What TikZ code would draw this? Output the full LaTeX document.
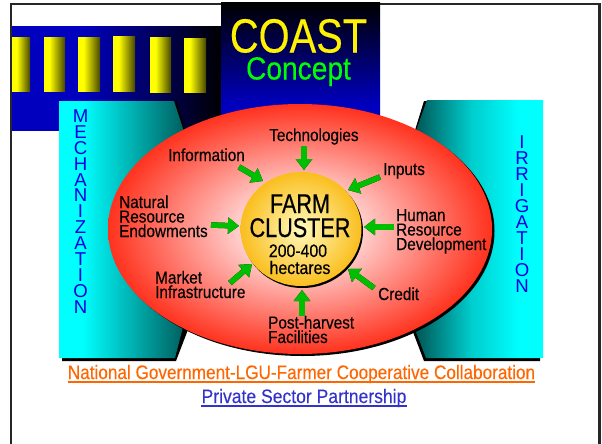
\documentclass[tikz,border=0pt]{standalone}
\usepackage{fontspec}
\setmainfont[FakeStretch=0.88,FakeBold=0.25]{Liberation Sans}
\newfontfamily\plainsans{Liberation Sans}
\usetikzlibrary{arrows.meta}
\definecolor{navy}{RGB}{0,0,190}
\definecolor{vblue}{RGB}{0,0,225}
\definecolor{lime}{RGB}{0,190,0}
\definecolor{orng}{RGB}{255,102,0}
\definecolor{plblue}{RGB}{51,51,204}
\definecolor{tealdk}{RGB}{0,85,85}
\definecolor{tealmd}{RGB}{0,205,205}
\definecolor{olivedk}{RGB}{70,70,0}
\definecolor{redor}{RGB}{255,50,30}
\definecolor{pinklt}{RGB}{255,225,225}
\definecolor{corein}{RGB}{255,250,190}
\definecolor{coreout}{RGB}{250,190,30}
\pgfdeclarehorizontalshading{cyanshade}{100bp}{color(0bp)=(cyan);color(34bp)=(cyan);color(75bp)=(tealdk);color(100bp)=(tealdk)}
\pgfdeclarehorizontalshading{cyanshadeR}{100bp}{color(0bp)=(tealdk);color(27bp)=(tealdk);color(48bp)=(tealmd);color(66bp)=(cyan);color(100bp)=(cyan)}
\pgfdeclarehorizontalshading{barshade}{100bp}{color(0bp)=(yellow);color(38bp)=(yellow);color(75bp)=(olivedk);color(100bp)=(olivedk)}
\pgfdeclarehorizontalshading{bandshade}{100bp}{color(0bp)=(navy);color(42bp)=(navy);color(75bp)=(black);color(100bp)=(black)}
\pgfdeclareverticalshading{titleshade}{100bp}{color(0bp)=(navy);color(35bp)=(navy);color(75bp)=(black);color(100bp)=(black)}
\pgfdeclareradialshading{ellshade}{\pgfpoint{0bp}{0bp}}{color(0bp)=(white);color(6bp)=(pinklt);color(25bp)=(redor);color(50bp)=(redor)}
\pgfdeclareradialshading{coreshade}{\pgfpoint{0bp}{0bp}}{color(0bp)=(corein);color(25bp)=(coreout);color(50bp)=(coreout)}
\tikzset{
  bar/.style={shading=barshade},
  lab/.style={inner sep=0pt,anchor=base west,align=left,text=black,font=\fontsize{17.4}{14.5}\selectfont},
  vert/.style={inner sep=0pt,anchor=north,align=center,text=vblue,font=\plainsans\fontsize{18.6}{15.9}\selectfont},
  garrow/.style={line width=5.5pt,color=lime,-{Triangle[length=11pt,width=16pt]}},
  gshadow/.style={line width=5.5pt,color=black,-{Triangle[length=11pt,width=16pt]},shift={(1.5pt,-2pt)}},
  under/.style={line width=1.8pt},
  foot/.style={inner sep=0pt,anchor=base,font=\fontsize{19.5}{20}\selectfont}
}
\newcommand{\garr}[2]{\draw[gshadow] (#1) -- (#2);\draw[garrow] (#1) -- (#2);}
\begin{document}
\begin{tikzpicture}[x=1pt,y=-1pt]
\useasboundingbox (0,0) rectangle (602,444);
\fill[white] (0,0) rectangle (602,444);
% frame
\path[clip] (0,0) rectangle (602,444);
\draw[line width=2.6pt,black!85] (11,4.2) rectangle (599.5,470);
% band and bars
\shade[shading=bandshade] (12,27) rectangle (222,130);
\shade[bar] (12,38) rectangle (30,91);
\shade[bar] (44,38) rectangle (65,91);
\shade[bar] (78,38) rectangle (100,91);
\shade[bar] (113,37) rectangle (135,91);
\shade[bar] (150,38) rectangle (171,92);
\shade[bar] (184,39) rectangle (206,92);
% title
\shade[shading=titleshade] (221,3) rectangle (380,130);
\node[inner sep=0pt,anchor=base,text=yellow,font=\fontsize{48}{48}\selectfont\addfontfeature{FakeStretch=0.83}] (coast) at (298.5,52.5) {COAST};
\node[inner sep=0pt,anchor=base,text=green,font=\fontsize{32}{32}\selectfont] (concept) at (298.5,79.5) {Concept};
% side panels
\fill[black] (62,361) -- (176,361) -- (189,327) -- (190,150) -- (177,101) -- (62,101) -- cycle;
\shade[shading=cyanshade] (59,101) -- (174,101) -- (190,150) -- (190,300) -- (175,358) -- (59,358) -- cycle;
\fill[black] (540,361) -- (424,361) -- (413,332) -- (412,140) -- (424,101) -- (540,101) -- cycle;
\shade[shading=cyanshadeR] (427,100) -- (543,100) -- (543,358) -- (426,358) -- (416,332) -- (410,300) -- (410,150) -- (417,128) -- cycle;
\node[vert] (mech) at (80.5,109.5) {M\\E\\C\\H\\A\\N\\I\\Z\\A\\T\\I\\O\\N};
\node[vert] (irr) at (522,136) {I\\R\\R\\I\\G\\A\\T\\I\\O\\N};
% ellipse
\fill[black] (302.5,231) ellipse [x radius=192,y radius=125];
\shade[shading=ellshade] (300,229) ellipse [x radius=192,y radius=125];
% core
\fill[black] (302.5,231) ellipse [x radius=60.5,y radius=57];
\shade[shading=coreshade] (301,229) ellipse [x radius=60.5,y radius=57];
\node[inner sep=0pt,anchor=base,font=\fontsize{27}{27}\selectfont\addfontfeature{FakeStretch=0.8,FakeBold=0.5}] (farm) at (300,213) {FARM};
\node[inner sep=0pt,anchor=base,font=\fontsize{27}{27}\selectfont\addfontfeature{FakeStretch=0.8,FakeBold=0.5}] (cluster) at (300,237) {CLUSTER};
\node[inner sep=0pt,anchor=base,font=\fontsize{18}{18}\selectfont\addfontfeature{FakeStretch=0.88,FakeBold=0.5}] (size) at (298,257) {200-400};
\node[inner sep=0pt,anchor=base,font=\fontsize{18}{18}\selectfont\addfontfeature{FakeStretch=0.88,FakeBold=0.5}] (hect) at (300,274) {hectares};
% labels
\node[lab] (tech) at (269,141) {Technologies};
\node[lab] (info) at (168,161) {Information};
\node[lab] (inp) at (383,175) {Inputs};
\node[lab] (nat) at (119,237) {Natural\\Resource\\Endowments};
\node[lab] (hum) at (396,250) {Human\\Resource\\Development};
\node[lab] (mkt) at (155,298) {Market\\Infrastructure};
\node[lab] (cred) at (378,300) {Credit};
\node[lab] (post) at (268,343) {Post-harvest\\Facilities};
% arrows
\coordinate (a1) at (304,146); \coordinate (b1) at (304,170);
\coordinate (a2) at (239,167); \coordinate (b2) at (263,181);
\coordinate (a3) at (380,177); \coordinate (b3) at (348,190);
\coordinate (a4) at (211,225); \coordinate (b4) at (239,226);
\coordinate (a5) at (394,227); \coordinate (b5) at (364,227);
\coordinate (a6) at (230,283); \coordinate (b6) at (252,264);
\coordinate (a7) at (374,288); \coordinate (b7) at (348,269);
\coordinate (a8) at (302,316); \coordinate (b8) at (302,290);
\garr{a1}{b1}\garr{a2}{b2}\garr{a3}{b3}\garr{a4}{b4}\garr{a5}{b5}\garr{a6}{b6}\garr{a7}{b7}\garr{a8}{b8}
% footer
\node[foot,text=orng] (gov) at (301.5,379) {National Government-LGU-Farmer Cooperative Collaboration};
\draw[under,orng] ([yshift=-2.7pt]gov.base west) -- ([yshift=-2.7pt]gov.base east);
\node[foot,text=plblue,font=\fontsize{19.5}{20}\selectfont\addfontfeature{FakeStretch=0.9}] (priv) at (304,403) {Private Sector Partnership};
\draw[under,plblue] ([yshift=-2.7pt]priv.base west) -- ([yshift=-2.7pt]priv.base east);
\end{tikzpicture}
\end{document}
